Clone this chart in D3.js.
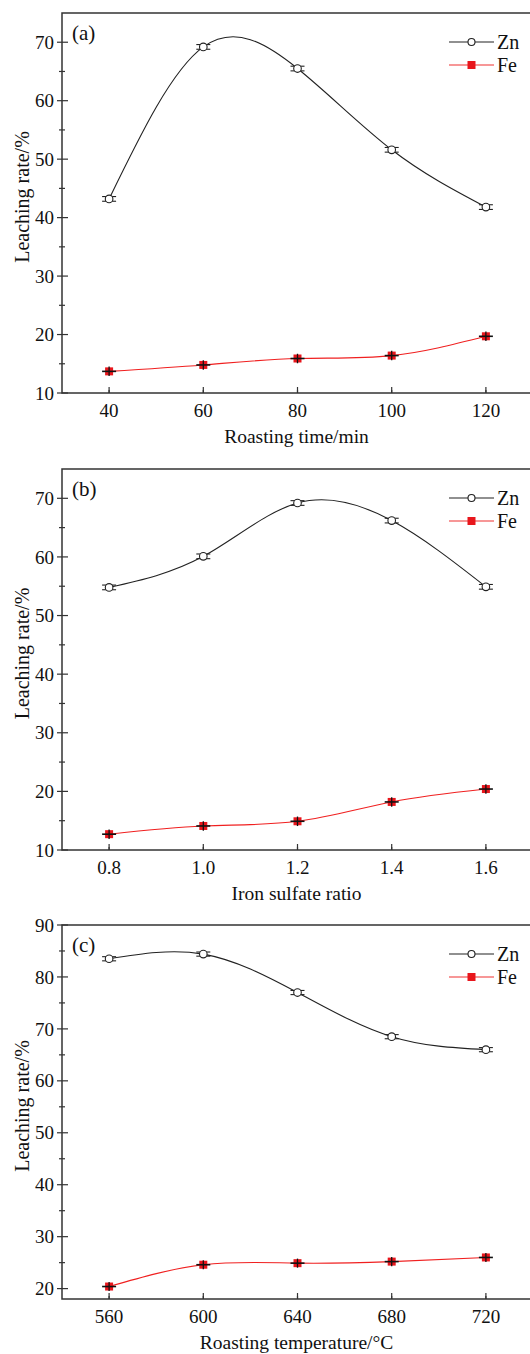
<!DOCTYPE html>
<html>
<head>
<meta charset="utf-8">
<script src="https://cdn.jsdelivr.net/npm/d3@7"></script>
<style>
  body { margin: 0; background: #fff; }
  svg { display: block; font-family: "Liberation Serif", "Times New Roman", serif; }
</style>
</head>
<body>
<script>
const width = 530, height = 1354;

// panel (a)
const timeX = [40, 60, 80, 100, 120];
const timeZn = [43.2, 69.2, 65.5, 51.6, 41.8];
const timeFe = [13.7, 14.8, 15.9, 16.4, 19.7];
const timeTicks = [40, 60, 80, 100, 120];

// panel (b)
const ratioX = [0.8, 1.0, 1.2, 1.4, 1.6];
const ratioZn = [54.8, 60.1, 69.2, 66.2, 54.9];
const ratioFe = [12.7, 14.1, 14.9, 18.2, 20.4];
const ratioTicks = [0.8, 1.0, 1.2, 1.4, 1.6];

// panel (c)
const tempX = [560, 600, 640, 680, 720];
const tempZn = [83.5, 84.4, 77.0, 68.5, 66.0];
const tempFe = [20.4, 24.6, 24.9, 25.2, 26.0];
const tempTicks = [560, 600, 640, 680, 720];

const errZn = 0.4, errFe = 0.3;

const svg = d3.select("body")
    .append("svg")
    .attr("width", width)
    .attr("height", height);

const panels = [
    { tag: "(a)", xs: timeX, zn: timeZn, fe: timeFe, xTicks: timeTicks, xDom: [30, 130], yDom: [10, 75],
      yTicks: [10, 20, 30, 40, 50, 60, 70], top: 13, bottom: 393, title: "Roasting time/min", fmt: d3.format("d") },
    { tag: "(b)", xs: ratioX, zn: ratioZn, fe: ratioFe, xTicks: ratioTicks, xDom: [0.7, 1.7], yDom: [10, 75],
      yTicks: [10, 20, 30, 40, 50, 60, 70], top: 469, bottom: 850, title: "Iron sulfate ratio", fmt: d3.format(".1f") },
    { tag: "(c)", xs: tempX, zn: tempZn, fe: tempFe, xTicks: tempTicks, xDom: [540, 740], yDom: [18, 90],
      yTicks: [20, 30, 40, 50, 60, 70, 80, 90], top: 925, bottom: 1299, title: "Roasting temperature/\u00B0C", fmt: d3.format("d") }
];

const left = 62, right = 533;
const axisColor = "#333";

panels.forEach(p => drawPanel(p));

function drawPanel(p) {
    const g = svg.append("g");
    const x = d3.scaleLinear().domain(p.xDom).range([left, right]);
    const y = d3.scaleLinear().domain(p.yDom).range([p.bottom, p.top]);

    // minor ticks (midpoints)
    const xStep = p.xTicks[1] - p.xTicks[0];
    const xMinor = d3.range(p.xDom[0] + xStep / 2, p.xDom[1], xStep).filter(v => Math.abs(v - p.xDom[0]) > 1e-9);
    const yMinor = p.yTicks.map(v => v + 5).filter(v => v < p.yDom[1]);
    if (p.yDom[0] < p.yTicks[0] - 5 + 1e-9) yMinor.push(p.yTicks[0] - 5);

    // y ticks cross the axis
    g.append("g").selectAll("line").data(p.yTicks).join("line")
        .attr("x1", left - 5).attr("x2", left + 6)
        .attr("y1", d => y(d)).attr("y2", d => y(d))
        .attr("stroke", axisColor).attr("stroke-width", 1.2);
    g.append("g").selectAll("line").data(yMinor).join("line")
        .attr("x1", left - 3).attr("x2", left + 3)
        .attr("y1", d => y(d)).attr("y2", d => y(d))
        .attr("stroke", axisColor).attr("stroke-width", 1.2);
    // x ticks inward
    g.append("g").selectAll("line").data(p.xTicks).join("line")
        .attr("x1", d => x(d)).attr("x2", d => x(d))
        .attr("y1", p.bottom).attr("y2", p.bottom - 6)
        .attr("stroke", axisColor).attr("stroke-width", 1.2);
    g.append("g").selectAll("line").data(xMinor).join("line")
        .attr("x1", d => x(d)).attr("x2", d => x(d))
        .attr("y1", p.bottom).attr("y2", p.bottom - 3)
        .attr("stroke", axisColor).attr("stroke-width", 1.2);

    // frame
    g.append("rect")
        .attr("x", left).attr("y", p.top)
        .attr("width", right - left).attr("height", p.bottom - p.top)
        .attr("fill", "none").attr("stroke", axisColor).attr("stroke-width", 1.5);

    // tick labels
    g.append("g").selectAll("text").data(p.yTicks).join("text")
        .attr("x", left - 8).attr("y", d => y(d))
        .attr("dy", "0.35em")
        .attr("text-anchor", "end")
        .attr("font-size", 19).attr("fill", "#111")
        .text(d => d);
    g.append("g").selectAll("text").data(p.xTicks).join("text")
        .attr("x", d => x(d)).attr("y", p.bottom + 24)
        .attr("text-anchor", "middle")
        .attr("font-size", 19).attr("fill", "#111")
        .text(d => p.fmt(d));

    // axis titles
    g.append("text")
        .attr("x", (left + right) / 2 - 1).attr("y", p.bottom + 50)
        .attr("text-anchor", "middle")
        .attr("font-size", 19.5).attr("fill", "#111")
        .text(p.title);
    g.append("text")
        .attr("transform", `translate(29, ${(p.top + p.bottom) / 2 - 6}) rotate(-90)`)
        .attr("text-anchor", "middle")
        .attr("font-size", 20).attr("fill", "#111")
        .text("Leaching rate/%");

    // panel tag
    g.append("text")
        .attr("x", 72).attr("y", p.top + 27)
        .attr("font-size", 21).attr("fill", "#111")
        .text(p.tag);

    const line = d3.line()
        .x(d => x(d[0]))
        .y(d => y(d[1]))
        .curve(d3.curveNatural);

    const znPts = p.xs.map((v, i) => [v, p.zn[i]]);
    const fePts = p.xs.map((v, i) => [v, p.fe[i]]);

    g.append("path").datum(znPts)
        .attr("d", line).attr("fill", "none")
        .attr("stroke", "#222").attr("stroke-width", 1.1);
    g.append("path").datum(fePts)
        .attr("d", line).attr("fill", "none")
        .attr("stroke", "#f02020").attr("stroke-width", 1.1);

    // Fe markers with error bars
    const fe = g.append("g").selectAll("g").data(fePts).join("g");
    fe.append("rect")
        .attr("x", d => x(d[0]) - 4).attr("y", d => y(d[1]) - 4)
        .attr("width", 8).attr("height", 8)
        .attr("fill", "#e8161c");
    fe.append("line")
        .attr("x1", d => x(d[0])).attr("x2", d => x(d[0]))
        .attr("y1", d => y(d[1] + errFe) - 3).attr("y2", d => y(d[1] - errFe) + 3)
        .attr("stroke", "#111").attr("stroke-width", 1.3);
    fe.append("line")
        .attr("x1", d => x(d[0]) - 7).attr("x2", d => x(d[0]) + 7)
        .attr("y1", d => y(d[1])).attr("y2", d => y(d[1]))
        .attr("stroke", "#111").attr("stroke-width", 1.6);

    // Zn markers with error bars
    const zn = g.append("g").selectAll("g").data(znPts).join("g");
    zn.selectAll("line.cap").data(d => [[d[0], d[1] + errZn], [d[0], d[1] - errZn]]).join("line")
        .attr("class", "cap")
        .attr("x1", d => x(d[0]) - 7).attr("x2", d => x(d[0]) + 7)
        .attr("y1", d => y(d[1])).attr("y2", d => y(d[1]))
        .attr("stroke", "#222").attr("stroke-width", 1.1);
    zn.append("circle")
        .attr("cx", d => x(d[0])).attr("cy", d => y(d[1]))
        .attr("r", 3.8)
        .attr("fill", "#fff").attr("stroke", "#222").attr("stroke-width", 1.1);

    // legend
    const leg = g.append("g");
    const rows = [
        { name: "Zn", color: "#222", y: p.top + 29 },
        { name: "Fe", color: "#f03030", y: p.top + 52 }
    ];
    rows.forEach(r => {
        leg.append("line")
            .attr("x1", 449).attr("x2", 494)
            .attr("y1", r.y).attr("y2", r.y)
            .attr("stroke", r.color).attr("stroke-width", 1.1);
        if (r.name === "Zn") {
            leg.append("circle")
                .attr("cx", 471.5).attr("cy", r.y).attr("r", 3.5)
                .attr("fill", "#fff").attr("stroke", "#222").attr("stroke-width", 1.1);
        } else {
            leg.append("rect")
                .attr("x", 467.5).attr("y", r.y - 4).attr("width", 8).attr("height", 8)
                .attr("fill", "#e8161c");
        }
        leg.append("text")
            .attr("x", 497).attr("y", r.y).attr("dy", "0.35em")
            .attr("font-size", 20).attr("fill", "#111")
            .text(r.name);
    });
}
</script>
</body>
</html>
